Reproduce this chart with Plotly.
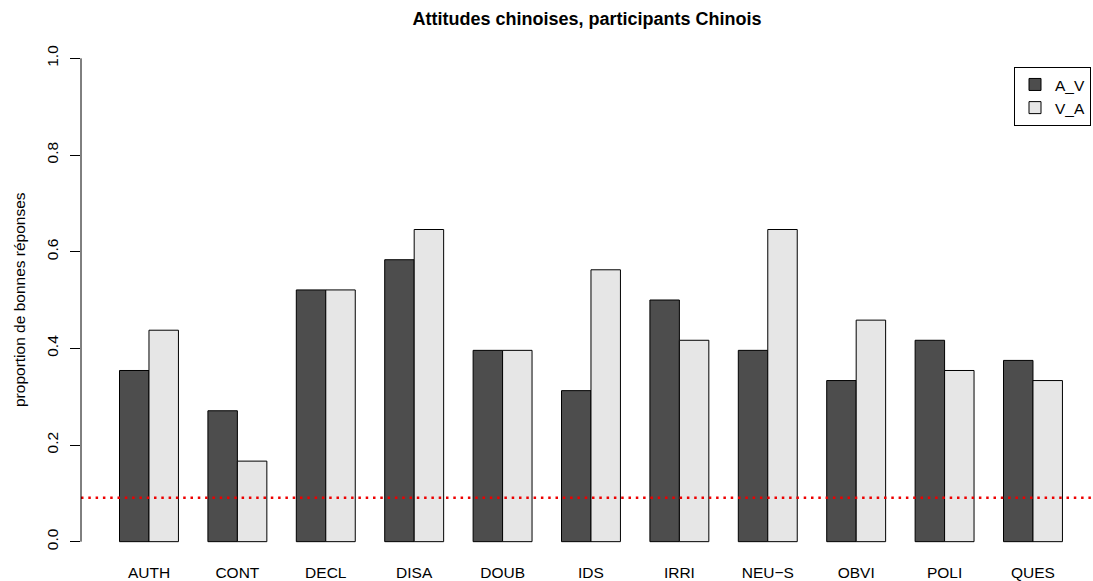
import plotly.graph_objects as go

categories = ["AUTH", "CONT", "DECL", "DISA", "DOUB", "IDS", "IRRI", "NEU\u2212S", "OBVI", "POLI", "QUES"]
a_v = [17/48, 13/48, 25/48, 28/48, 19/48, 15/48, 24/48, 19/48, 16/48, 20/48, 18/48]
v_a = [21/48, 8/48, 25/48, 31/48, 19/48, 27/48, 20/48, 31/48, 22/48, 17/48, 16/48]
chance_level = 1/11
y_ticks = [0.0, 0.2, 0.4, 0.6, 0.8, 1.0]
y_tick_labels = ["0.0", "0.2", "0.4", "0.6", "0.8", "1.0"]

FONT = "Liberation Sans, Arial, sans-serif"
PLOT_TOP, PLOT_BOTTOM = 39, 563

fig = go.Figure()
fig.add_trace(go.Bar(name="A_V", x=categories, y=a_v,
                     marker=dict(color="#4D4D4D", line=dict(color="black", width=1))))
fig.add_trace(go.Bar(name="V_A", x=categories, y=v_a,
                     marker=dict(color="#E6E6E6", line=dict(color="black", width=1))))

fig.add_shape(type="line", xref="paper", yref="y", x0=0, x1=1, y0=chance_level, y1=chance_level,
              line=dict(color="#ee0000", width=2.5, dash="2.5px,4.8px"), layer="above")
fig.add_shape(type="line", xref="paper", yref="y", x0=0, x1=0, y0=0, y1=1,
              line=dict(color="black", width=1))

fig.add_annotation(text="proportion de bonnes réponses", xref="paper", yref="paper",
                   x=(19 - 81) / 1012, xanchor="center", y=0.5, yanchor="middle",
                   textangle=-90, showarrow=False,
                   font=dict(family=FONT, size=15.5, color="black"))

fig.update_layout(
    width=1093, height=581,
    margin=dict(l=81, r=0, t=PLOT_TOP, b=581 - PLOT_BOTTOM),
    paper_bgcolor="white", plot_bgcolor="white",
    barmode="group", bargap=1/3, bargroupgap=0,
    title=dict(text="<b>Attitudes chinoises, participants Chinois</b>", x=0.5, xref="paper",
               xanchor="center", y=1 - 18.5/581, yanchor="middle",
               font=dict(family=FONT, size=18, color="black")),
    font=dict(family=FONT, size=15.5, color="black"),
    showlegend=True,
    legend=dict(x=(1091 - 81) / 1012, xanchor="right",
                y=(PLOT_BOTTOM - 67) / (PLOT_BOTTOM - PLOT_TOP), yanchor="top",
                bordercolor="black", borderwidth=1, bgcolor="white",
                font=dict(family=FONT, size=15.5), traceorder="normal", itemwidth=30),
    xaxis=dict(range=[-0.769, 10.679], showline=False, showgrid=False, zeroline=False,
               ticks="", tickfont=dict(family=FONT, size=15.5)),
    yaxis=dict(range=[-0.04, 1.04], showline=False, showgrid=False, zeroline=False,
               tickvals=y_ticks, ticktext=y_tick_labels, ticks="outside", ticklen=10,
               tickcolor="black", tickangle=-90, ticklabelstandoff=6,
               tickfont=dict(family=FONT, size=15.5)),
)

fig.write_html("out.html", config={"displayModeBar": False},
               post_script="document.body.style.margin='0';document.body.style.overflow='hidden';")
